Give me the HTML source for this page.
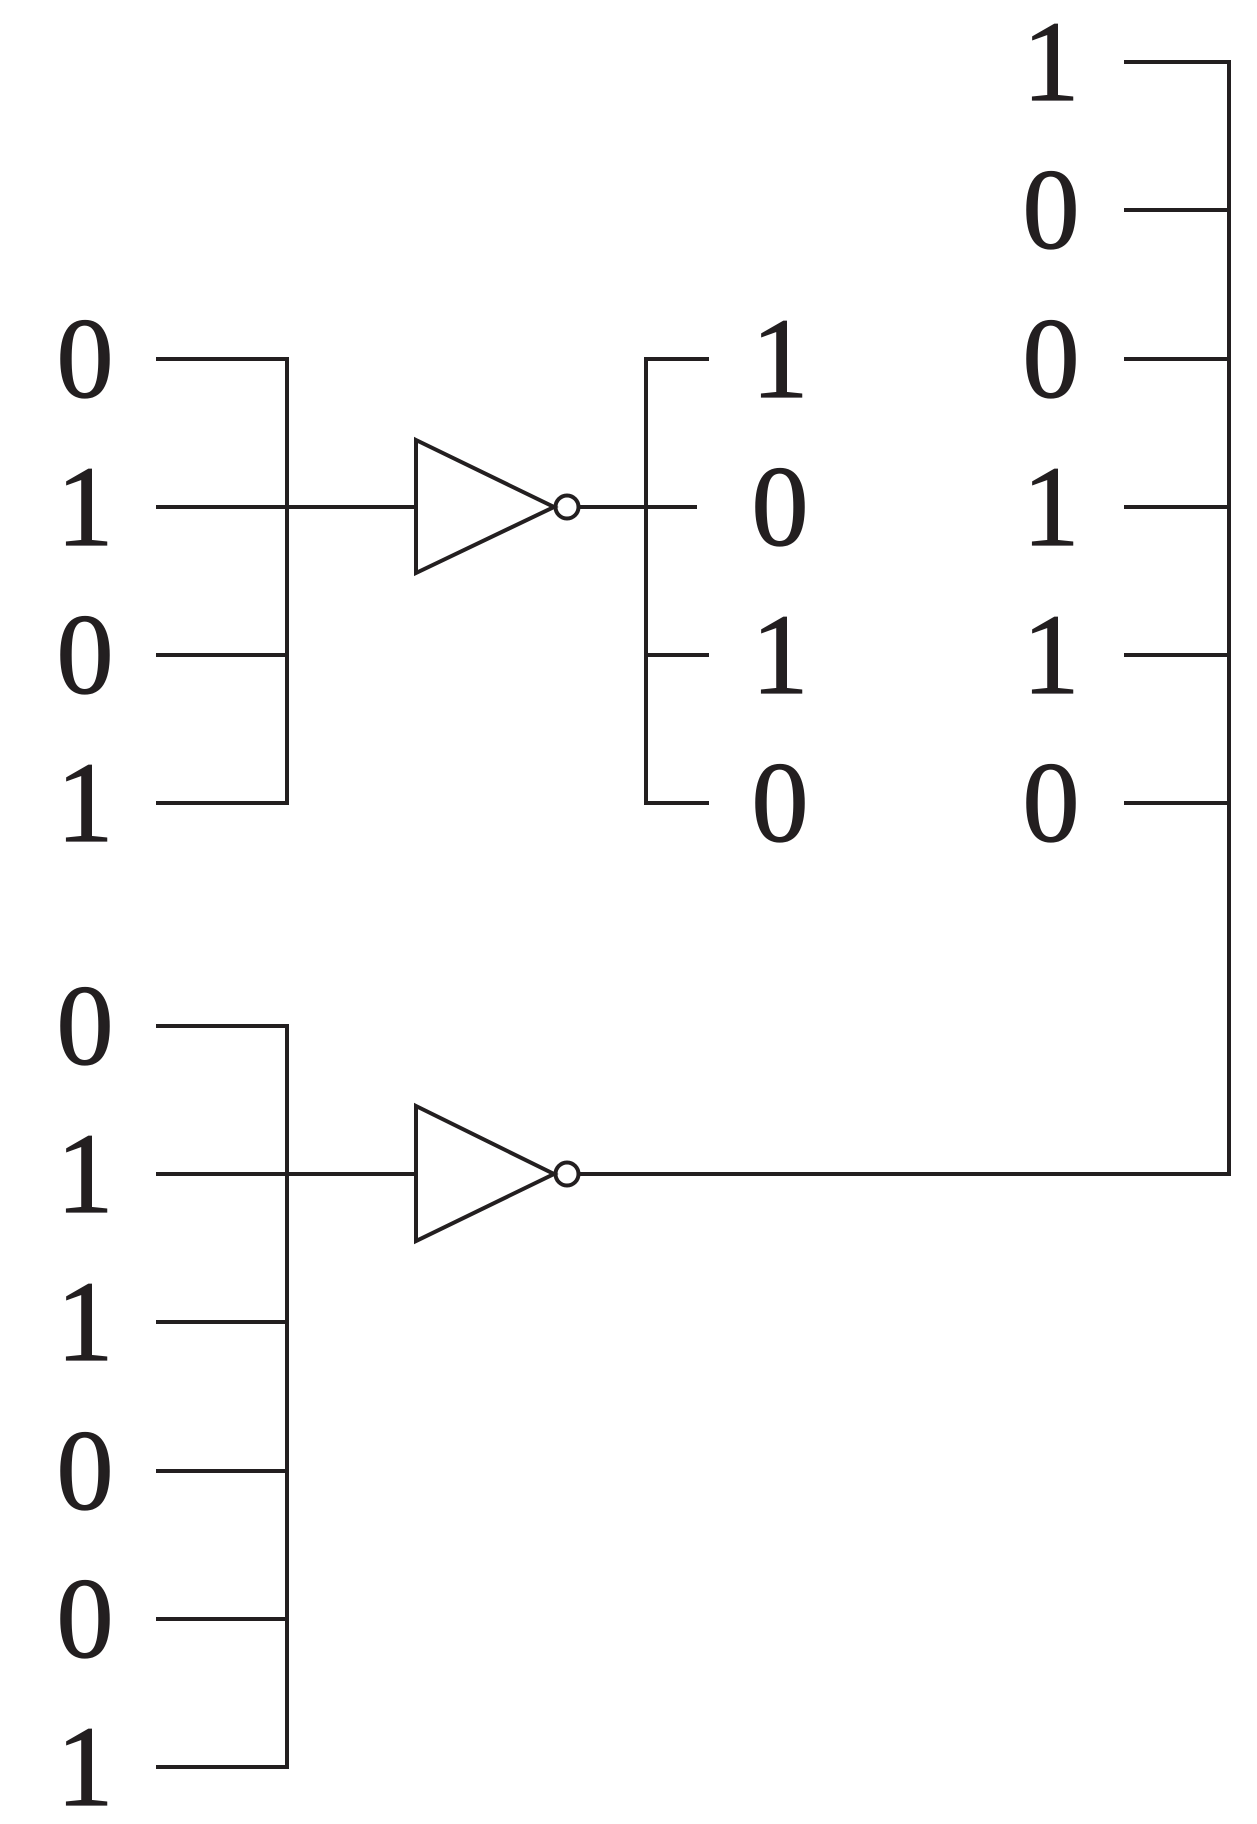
<!DOCTYPE html>
<html><head><meta charset="utf-8"><style>html,body{margin:0;padding:0;background:#fff}svg{display:block}
.t{font-family:"Liberation Serif","Times New Roman",serif;font-size:114px;fill:#231f20;stroke:#231f20;stroke-width:1.2px}</style></head>
<body>
<svg width="1257" height="1824" viewBox="0 0 1257 1824" xmlns="http://www.w3.org/2000/svg">
<g stroke="#231f20" stroke-width="4" fill="none" stroke-linecap="butt">
<polyline points="156,359 287,359 287,803 156,803"/>
<line x1="156" y1="507" x2="416" y2="507"/>
<line x1="156" y1="655" x2="287" y2="655"/>
<polygon points="416,440 554,507 416,573"/>
<circle cx="567" cy="507" r="11.5"/>
<line x1="579" y1="507" x2="697" y2="507"/>
<polyline points="709,359 646,359 646,803 709,803"/>
<line x1="646" y1="655" x2="709" y2="655"/>
<polyline points="1124,62 1229,62 1229,1174 579,1174"/>
<line x1="1124" y1="210" x2="1229" y2="210"/>
<line x1="1124" y1="359" x2="1229" y2="359"/>
<line x1="1124" y1="507" x2="1229" y2="507"/>
<line x1="1124" y1="655" x2="1229" y2="655"/>
<line x1="1124" y1="803" x2="1229" y2="803"/>
<polyline points="156,1026 287,1026 287,1767 156,1767"/>
<line x1="156" y1="1174" x2="416" y2="1174"/>
<line x1="156" y1="1322" x2="287" y2="1322"/>
<line x1="156" y1="1471" x2="287" y2="1471"/>
<line x1="156" y1="1619" x2="287" y2="1619"/>
<polygon points="416,1106 554,1174 416,1241"/>
<circle cx="567" cy="1174" r="11.5"/>
</g>
<g class="t" text-anchor="middle">
<text x="85" y="397">0</text><text x="85" y="545">1</text><text x="85" y="693">0</text><text x="85" y="841">1</text>
<text x="85" y="1064">0</text><text x="85" y="1212">1</text><text x="85" y="1360">1</text><text x="85" y="1509">0</text><text x="85" y="1657">0</text><text x="85" y="1805">1</text>
<text x="780" y="397">1</text><text x="780" y="545">0</text><text x="780" y="693">1</text><text x="780" y="841">0</text>
<text x="1051" y="100">1</text><text x="1051" y="248">0</text><text x="1051" y="397">0</text><text x="1051" y="545">1</text><text x="1051" y="693">1</text><text x="1051" y="841">0</text>
</g>
</svg>
</body></html>
